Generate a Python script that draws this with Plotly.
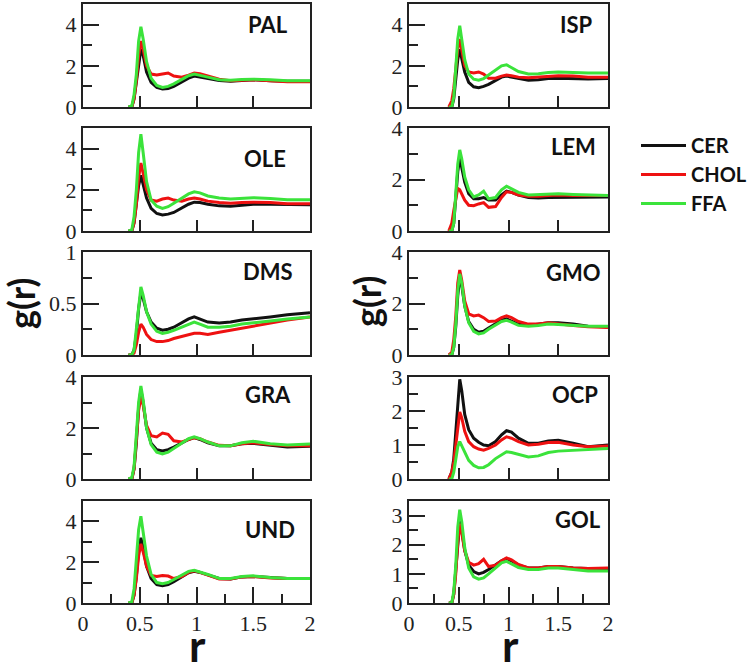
import plotly.graph_objects as go

# ---------------- data ----------------
R = [0.40, 0.43, 0.45, 0.47, 0.49, 0.51, 0.53, 0.56, 0.60, 0.65, 0.70, 0.75, 0.80,
     0.87, 0.93, 0.98, 1.03, 1.10, 1.20, 1.30, 1.40, 1.50, 1.65, 1.80, 2.00]

SERIES = ["CER", "CHOL", "FFA"]
LEFT_PANELS = ["PAL", "OLE", "DMS", "GRA", "UND"]
RIGHT_PANELS = ["ISP", "LEM", "GMO", "OCP", "GOL"]

PAL_CER = [0, 0, 0.4, 1.2, 2.2, 2.8, 2.5, 1.7, 1.2, 0.95, 0.88, 0.9, 1.0, 1.2, 1.4, 1.5, 1.45, 1.38, 1.28, 1.25, 1.3, 1.32, 1.28, 1.25, 1.25]
PAL_CHOL = [0, 0, 0.4, 1.3, 2.5, 3.2, 2.8, 2.0, 1.6, 1.55, 1.6, 1.65, 1.5, 1.45, 1.55, 1.65, 1.62, 1.5, 1.35, 1.28, 1.3, 1.32, 1.28, 1.22, 1.22]
PAL_FFA = [0, 0.05, 0.6, 1.6, 3.2, 3.9, 3.3, 2.2, 1.4, 1.05, 0.95, 1.0, 1.12, 1.35, 1.52, 1.6, 1.55, 1.45, 1.32, 1.3, 1.33, 1.35, 1.32, 1.28, 1.28]

OLE_CER = [0, 0, 0.4, 1.2, 2.2, 2.7, 2.3, 1.6, 1.1, 0.85, 0.78, 0.82, 0.9, 1.1, 1.3, 1.4, 1.38, 1.3, 1.22, 1.2, 1.25, 1.3, 1.3, 1.28, 1.28]
OLE_CHOL = [0, 0, 0.4, 1.3, 2.6, 3.3, 2.8, 2.0, 1.5, 1.45, 1.55, 1.6, 1.5, 1.45, 1.55, 1.6, 1.55, 1.45, 1.38, 1.35, 1.38, 1.4, 1.38, 1.32, 1.32]
OLE_FFA = [0, 0.05, 0.7, 2.0, 3.8, 4.7, 3.8, 2.4, 1.5, 1.2, 1.1, 1.18, 1.35, 1.6, 1.8, 1.9, 1.85, 1.7, 1.6, 1.55, 1.58, 1.62, 1.58, 1.52, 1.52]

DMS_CER = [0, 0, 0.05, 0.2, 0.45, 0.6, 0.55, 0.42, 0.32, 0.26, 0.24, 0.25, 0.27, 0.31, 0.35, 0.37, 0.35, 0.32, 0.31, 0.32, 0.34, 0.35, 0.37, 0.39, 0.41]
DMS_CHOL = [0, 0, 0.02, 0.1, 0.22, 0.3, 0.27, 0.2, 0.15, 0.13, 0.13, 0.14, 0.16, 0.18, 0.2, 0.21, 0.21, 0.2, 0.22, 0.24, 0.26, 0.28, 0.31, 0.34, 0.37]
DMS_FFA = [0, 0, 0.05, 0.25, 0.5, 0.66, 0.58, 0.42, 0.3, 0.23, 0.21, 0.22, 0.24, 0.27, 0.3, 0.32, 0.3, 0.27, 0.27, 0.28, 0.3, 0.31, 0.33, 0.35, 0.37]

GRA_CER = [0, 0, 0.4, 1.4, 2.8, 3.5, 3.0, 2.0, 1.4, 1.15, 1.1, 1.15, 1.25, 1.4, 1.55, 1.62, 1.55, 1.42, 1.3, 1.3, 1.38, 1.4, 1.32, 1.25, 1.28]
GRA_CHOL = [0, 0, 0.4, 1.4, 2.7, 3.2, 2.9, 2.1, 1.7, 1.65, 1.8, 1.75, 1.5, 1.45, 1.55, 1.62, 1.58, 1.45, 1.32, 1.3, 1.38, 1.42, 1.35, 1.3, 1.3]
GRA_FFA = [0, 0.05, 0.5, 1.6, 3.0, 3.65, 3.1, 2.0, 1.35, 1.05, 0.98, 1.05, 1.2, 1.4, 1.58, 1.65, 1.58, 1.45, 1.3, 1.3, 1.42, 1.48, 1.38, 1.33, 1.37]

UND_CER = [0, 0, 0.4, 1.3, 2.6, 3.2, 2.7, 1.8, 1.2, 0.9, 0.85, 0.9, 1.05, 1.3, 1.48, 1.55, 1.5, 1.38, 1.2, 1.18, 1.28, 1.3, 1.25, 1.2, 1.2]
UND_CHOL = [0, 0, 0.4, 1.2, 2.3, 2.9, 2.5, 1.8, 1.35, 1.3, 1.35, 1.32, 1.2, 1.3, 1.5, 1.58, 1.5, 1.38, 1.18, 1.18, 1.28, 1.3, 1.22, 1.2, 1.2]
UND_FFA = [0, 0.05, 0.7, 2.0, 3.6, 4.25, 3.5, 2.3, 1.4, 1.0, 0.95, 1.0, 1.15, 1.38, 1.55, 1.6, 1.52, 1.4, 1.2, 1.2, 1.3, 1.33, 1.25, 1.2, 1.2]

ISP_CER = [0, 0, 0.4, 1.3, 2.3, 2.8, 2.4, 1.7, 1.2, 0.98, 0.94, 1.0, 1.1, 1.3, 1.45, 1.5, 1.45, 1.38, 1.3, 1.32, 1.38, 1.4, 1.38, 1.36, 1.38]
ISP_CHOL = [0, 0.3, 0.9, 1.8, 2.8, 3.3, 2.8, 2.0, 1.7, 1.65, 1.7, 1.6, 1.4, 1.4, 1.5, 1.55, 1.52, 1.45, 1.42, 1.45, 1.5, 1.52, 1.5, 1.45, 1.45]
ISP_FFA = [0, 0, 0.5, 1.7, 3.3, 3.95, 3.3, 2.3, 1.6, 1.35, 1.3, 1.38, 1.55, 1.8, 2.0, 2.05, 1.9, 1.72, 1.6, 1.62, 1.68, 1.7, 1.68, 1.65, 1.65]

LEM_CER = [0, 0, 0.3, 1.2, 2.3, 2.84, 2.5, 1.9, 1.45, 1.25, 1.25, 1.3, 1.2, 1.2, 1.4, 1.55, 1.5, 1.4, 1.3, 1.28, 1.3, 1.3, 1.3, 1.3, 1.32]
LEM_CHOL = [0, 0.3, 0.8, 1.3, 1.65, 1.6, 1.45, 1.2, 1.0, 0.98, 1.05, 1.1, 0.92, 0.95, 1.3, 1.52, 1.5, 1.4, 1.35, 1.35, 1.38, 1.4, 1.38, 1.38, 1.38]
LEM_FFA = [0, 0, 0.3, 1.3, 2.6, 3.15, 2.8, 2.1, 1.6, 1.32, 1.4, 1.55, 1.25, 1.3, 1.6, 1.74, 1.65, 1.5, 1.4, 1.42, 1.45, 1.45, 1.42, 1.4, 1.38]

GMO_CER = [0, 0, 0.3, 1.1, 2.3, 3.05, 2.7, 1.9, 1.3, 1.0, 0.88, 0.92, 1.05, 1.2, 1.35, 1.4, 1.32, 1.2, 1.15, 1.2, 1.25, 1.25, 1.2, 1.12, 1.1]
GMO_CHOL = [0, 0.1, 0.6, 1.5, 2.8, 3.3, 2.9, 2.1, 1.6, 1.52, 1.55, 1.45, 1.3, 1.32, 1.45, 1.52, 1.45, 1.3, 1.2, 1.2, 1.25, 1.22, 1.15, 1.1, 1.07]
GMO_FFA = [0, 0, 0.3, 1.2, 2.5, 3.15, 2.8, 1.9, 1.25, 0.92, 0.82, 0.86, 1.0, 1.15, 1.3, 1.35, 1.28, 1.15, 1.12, 1.15, 1.2, 1.18, 1.15, 1.12, 1.12]

OCP_CER = [0, 0.2, 0.6, 1.4, 2.4, 2.93, 2.6, 1.9, 1.45, 1.2, 1.08, 1.0, 0.98, 1.1, 1.3, 1.42, 1.38, 1.2, 1.05, 1.05, 1.12, 1.14, 1.05, 0.95, 1.0]
OCP_CHOL = [0, 0.2, 0.5, 1.0, 1.6, 1.97, 1.8, 1.4, 1.1, 0.95, 0.88, 0.85, 0.9, 1.0, 1.15, 1.24, 1.2, 1.1, 1.0, 1.02, 1.07, 1.08, 1.0, 0.95, 0.97]
OCP_FFA = [0, 0, 0.2, 0.6, 0.95, 1.1, 0.98, 0.75, 0.55, 0.4, 0.33, 0.34, 0.42, 0.6, 0.72, 0.8, 0.78, 0.72, 0.65, 0.68, 0.78, 0.82, 0.84, 0.86, 0.9]

GOL_CER = [0, 0, 0.3, 1.1, 2.2, 2.8, 2.5, 1.8, 1.3, 1.08, 1.0, 1.05, 1.15, 1.3, 1.45, 1.52, 1.45, 1.3, 1.2, 1.2, 1.25, 1.25, 1.2, 1.18, 1.18]
GOL_CHOL = [0, 0, 0.3, 1.0, 2.1, 2.72, 2.4, 1.8, 1.4, 1.3, 1.35, 1.5, 1.25, 1.3, 1.45, 1.55, 1.48, 1.32, 1.2, 1.2, 1.25, 1.25, 1.2, 1.18, 1.2]
GOL_FFA = [0, 0, 0.4, 1.3, 2.6, 3.2, 2.8, 1.9, 1.2, 0.9, 0.82, 0.86, 1.0, 1.2, 1.38, 1.43, 1.35, 1.22, 1.15, 1.15, 1.2, 1.2, 1.15, 1.1, 1.1]

Y_MAX = {"PAL": 5, "OLE": 5, "DMS": 1, "GRA": 4, "UND": 5,
         "ISP": 5, "LEM": 4, "GMO": 4, "OCP": 3, "GOL": 3.5}
Y_DTICK = {"PAL": 2, "OLE": 2, "DMS": 0.5, "GRA": 2, "UND": 2,
           "ISP": 2, "LEM": 2, "GMO": 2, "OCP": 1, "GOL": 1}
X_TICKS = [0, 0.5, 1, 1.5, 2]

DATA = {
    "PAL": (PAL_CER, PAL_CHOL, PAL_FFA), "OLE": (OLE_CER, OLE_CHOL, OLE_FFA),
    "DMS": (DMS_CER, DMS_CHOL, DMS_FFA), "GRA": (GRA_CER, GRA_CHOL, GRA_FFA),
    "UND": (UND_CER, UND_CHOL, UND_FFA), "ISP": (ISP_CER, ISP_CHOL, ISP_FFA),
    "LEM": (LEM_CER, LEM_CHOL, LEM_FFA), "GMO": (GMO_CER, GMO_CHOL, GMO_FFA),
    "OCP": (OCP_CER, OCP_CHOL, OCP_FFA), "GOL": (GOL_CER, GOL_CHOL, GOL_FFA),
}

# ---------------- styling / layout ----------------
W, H = 747, 665
COLORS = {"CER": "#111111", "CHOL": "#ee1111", "FFA": "#3be33b"}
TICK_FONT = dict(family="Liberation Serif", size=22, color="#222222")
BOLD = "Lato"

COL_X = [(83, 310), (409, 608)]
ROW_Y = [(4, 107), (128, 231), (252, 355), (377, 479), (501, 603)]
# panel title anchor (right x, centre y) in pixels
TITLE_POS = {"PAL": (290, 24.5), "OLE": (288, 158), "DMS": (295, 271.5), "GRA": (293, 394.5),
             "UND": (297, 529), "ISP": (595, 24.5), "LEM": (598, 146), "GMO": (603, 272.5),
             "OCP": (600, 394.5), "GOL": (603, 519.5)}

fig = go.Figure()
layout = {}
annotations = []

panels = [(p, 0, i) for i, p in enumerate(LEFT_PANELS)] + [(p, 1, i) for i, p in enumerate(RIGHT_PANELS)]
for k, (name, col, row) in enumerate(panels):
    n = k + 1
    xa = "x" if n == 1 else f"x{n}"
    ya = "y" if n == 1 else f"y{n}"
    for s, vals in zip(SERIES, DATA[name]):
        fig.add_trace(go.Scatter(
            x=R, y=vals, mode="lines", name=s, xaxis=xa, yaxis=ya,
            line=dict(color=COLORS[s], width=3),
            showlegend=(n == 1), hoverinfo="skip"))
    x0, x1 = COL_X[col]
    t, b = ROW_Y[row]
    bottom = row == 4
    xkey = "xaxis" if n == 1 else f"xaxis{n}"
    ykey = "yaxis" if n == 1 else f"yaxis{n}"
    layout[xkey] = dict(
        domain=[x0 / W, x1 / W], anchor=ya, range=[0, 2], automargin=False,
        tickvals=X_TICKS, ticktext=[f"{v:g}" for v in X_TICKS],
        showticklabels=bottom, ticks="inside", ticklen=16 if bottom else 11,
        tickwidth=1.5, tickcolor="#222",
        minor=dict(ticks="inside", ticklen=9, dtick=0.25, tickwidth=1.5, tickcolor="#222") if bottom else dict(ticks=""),
        showline=True, mirror=True, linewidth=2, linecolor="#222",
        showgrid=False, zeroline=False, tickfont=TICK_FONT, fixedrange=True)
    layout[ykey] = dict(
        domain=[1 - b / H, 1 - t / H], anchor=xa, range=[0, Y_MAX[name]], automargin=False,
        dtick=Y_DTICK[name], tick0=0, ticks="inside", ticklen=16, tickwidth=1.5, tickcolor="#222",
        minor=dict(ticks="inside", ticklen=9, dtick=Y_DTICK[name] / 2, tickwidth=1.5, tickcolor="#222"),
        showline=True, mirror=True, linewidth=2, linecolor="#222",
        showgrid=False, zeroline=False, tickfont=TICK_FONT, fixedrange=True)
    tx, ty = TITLE_POS[name]
    annotations.append(dict(
        text=name, xref="paper", yref="paper", x=tx / W, y=1 - ty / H,
        xanchor="right", yanchor="middle", showarrow=False,
        font=dict(family=BOLD, size=22, color="#111", weight="bold")))

# axis titles
for gx, gy in [(21, 304), (367, 302)]:
    annotations.append(dict(text="g(r)", xref="paper", yref="paper", x=gx / W, y=1 - gy / H,
                            xanchor="center", yanchor="middle", textangle=-90, showarrow=False,
                            font=dict(family=BOLD, size=36, color="#111", weight="bold")))
for rx, ry in [(197, 645), (510, 645)]:
    annotations.append(dict(text="r", xref="paper", yref="paper", x=rx / W, y=1 - ry / H,
                            xanchor="center", yanchor="middle", showarrow=False,
                            font=dict(family=BOLD, size=44, color="#111", weight="bold")))

fig.update_layout(
    width=W, height=H, margin=dict(l=0, r=0, t=0, b=0, autoexpand=False),
    paper_bgcolor="white", plot_bgcolor="white",
    annotations=annotations,
    legend=dict(x=636 / W, y=1 - 126 / H, xanchor="left", yanchor="top",
                font=dict(family=BOLD, size=20, color="#111", weight="bold"),
                bgcolor="rgba(0,0,0,0)", itemwidth=45, tracegroupgap=0),
    **layout)

fig.write_html("out.html", config={"displayModeBar": False},
               post_script="document.body.style.margin='0';")
